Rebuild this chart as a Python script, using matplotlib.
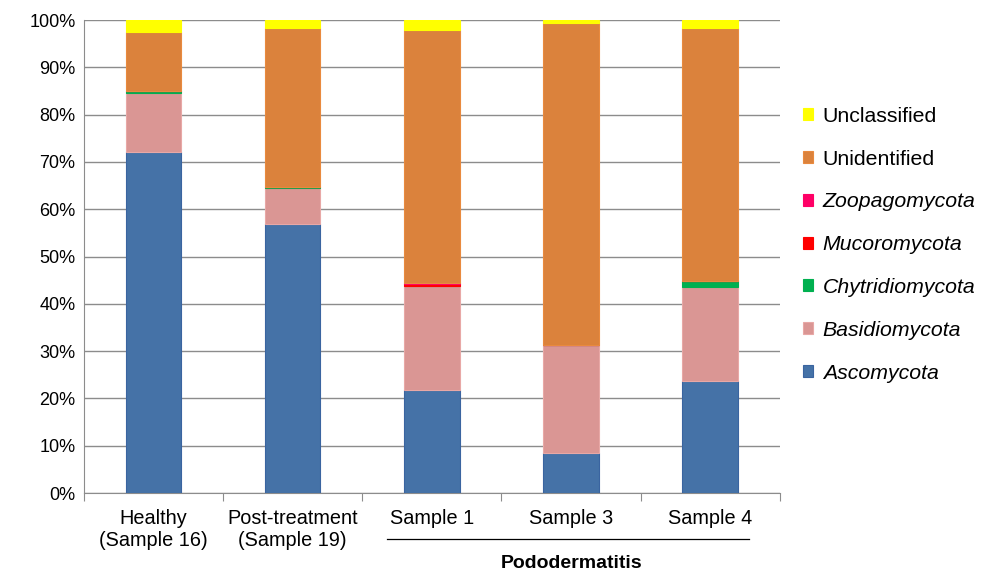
import matplotlib
matplotlib.use('Agg')
import matplotlib.pyplot as plt
import numpy as np

plt.rcParams['font.family'] = ['Liberation Sans', 'DejaVu Sans']

categories = ['Healthy\n(Sample 16)', 'Post-treatment\n(Sample 19)', 'Sample 1', 'Sample 3', 'Sample 4']
ascomycota = [72.1, 56.9, 21.8, 8.5, 23.7]
basidiomycota = [12.5, 7.6, 22.0, 22.8, 19.8]
chytridiomycota = [0.3, 0.3, 0.0, 0.0, 1.3]
mucoromycota = [0.0, 0.0, 0.4, 0.0, 0.0]
zoopagomycota = [0.0, 0.0, 0.1, 0.0, 0.0]
unidentified = [12.5, 33.5, 53.6, 68.1, 53.5]
unclassified = [2.6, 1.7, 2.1, 0.6, 1.7]

series = [
    ('Ascomycota', ascomycota, '#4572A7', '#3A64A0', True),
    ('Basidiomycota', basidiomycota, '#DA9694', '#E8A8A6', True),
    ('Chytridiomycota', chytridiomycota, '#00B050', '#00B050', True),
    ('Mucoromycota', mucoromycota, '#FF0000', '#FF0000', True),
    ('Zoopagomycota', zoopagomycota, '#FF0066', '#FF0066', True),
    ('Unidentified', unidentified, '#DB823C', '#E98A3E', False),
    ('Unclassified', unclassified, '#FFFF00', '#FFFF00', False),
]

fig = plt.figure(figsize=(9.86, 5.75), dpi=100)
ax = fig.add_axes([0.085, 0.1426, 0.706, 0.8226])

x = np.arange(len(categories))
bottom = np.zeros(len(categories))
handles = []
for name, vals, col, edge, ital in series:
    vals = np.array(vals)
    b = ax.bar(x, vals, 0.4, bottom=bottom, color=col, edgecolor=edge, linewidth=0.8,
               label=name, zorder=3)
    bottom += vals
    handles.append(b)

ax.set_xlim(-0.5, len(categories) - 0.5)
ax.set_ylim(0, 100)
ax.set_yticks(np.arange(0, 101, 10))
ax.set_yticklabels(['%d%%' % v for v in range(0, 101, 10)], fontsize=13)
ax.yaxis.grid(True, color='#8C8C8C', linewidth=1.0, zorder=0)
ax.tick_params(axis='y', length=0, pad=6)

for s in ['top', 'right']:
    ax.spines[s].set_visible(False)
ax.spines['left'].set_color('#8C8C8C')
ax.spines['bottom'].set_color('#8C8C8C')

# category boundary ticks
ax.set_xticks(np.arange(-0.5, len(categories), 1.0), minor=False)
ax.set_xticklabels([])
ax.tick_params(axis='x', length=6, color='#8C8C8C')
for i, c in enumerate(categories):
    ax.text(i, -3.3, c, ha='center', va='top', fontsize=14.3,
            linespacing=1.2)

# group line and label
ax.plot([1.68, 4.28], [-9.8, -9.8], color='black', linewidth=0.9, clip_on=False)
ax.text(3, -13.2, 'Pododermatitis', ha='center', va='top', fontsize=14,
        fontweight='bold')

leg = ax.legend(handles[::-1], [s[0] for s in series][::-1], loc='center left',
                bbox_to_anchor=(1.005, 0.525), frameon=False, fontsize=15.3,
                handlelength=0.5, handleheight=0.5, handletextpad=0.45,
                labelspacing=1.12)
for t, s in zip(leg.get_texts(), series[::-1]):
    if s[4]:
        t.set_fontstyle('italic')

fig.savefig('out.png', dpi=100)
